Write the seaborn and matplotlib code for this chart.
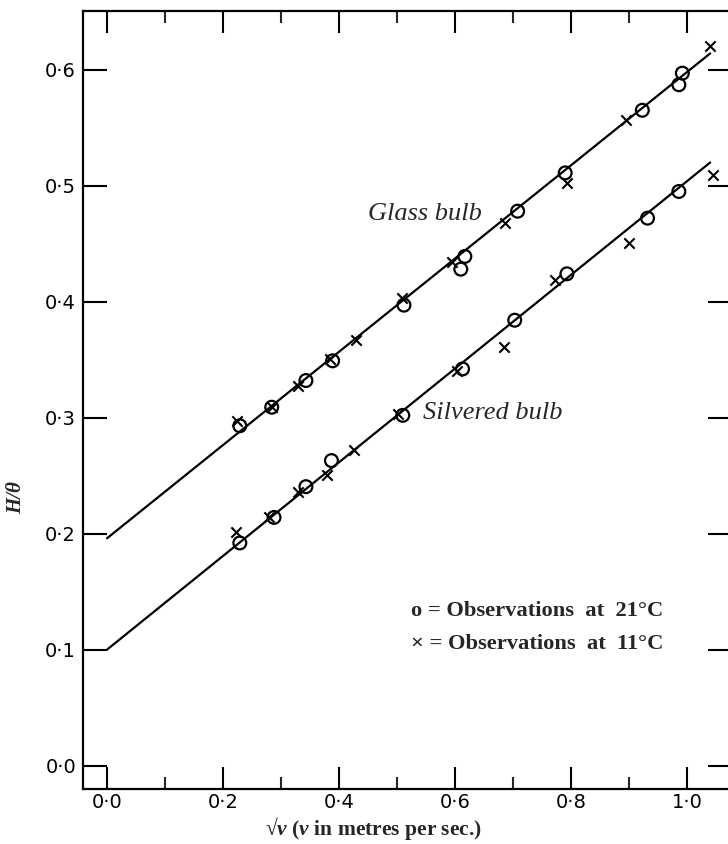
import numpy as np
import pandas as pd
import matplotlib
matplotlib.use("Agg")
import matplotlib.pyplot as plt
import seaborn as sns

# ---- data ----
glass_o_x = [0.229, 0.284, 0.343, 0.389, 0.512, 0.610, 0.617, 0.708, 0.790, 0.923, 0.986, 0.992]
glass_o_y = [0.293, 0.309, 0.332, 0.349, 0.397, 0.428, 0.439, 0.478, 0.511, 0.565, 0.587, 0.597]
glass_x_x = [0.225, 0.284, 0.330, 0.384, 0.429, 0.509, 0.594, 0.686, 0.793, 0.895, 1.040]
glass_x_y = [0.297, 0.309, 0.327, 0.351, 0.367, 0.403, 0.434, 0.468, 0.502, 0.557, 0.620]
silv_o_x = [0.229, 0.288, 0.343, 0.387, 0.510, 0.613, 0.703, 0.793, 0.932, 0.986]
silv_o_y = [0.192, 0.214, 0.2405, 0.263, 0.302, 0.342, 0.384, 0.424, 0.472, 0.495]
silv_x_x = [0.222, 0.280, 0.330, 0.380, 0.426, 0.502, 0.603, 0.684, 0.772, 0.900, 1.045]
silv_x_y = [0.201, 0.214, 0.236, 0.251, 0.272, 0.303, 0.340, 0.361, 0.419, 0.451, 0.509]

fit_x = [0.0, 1.04]
glass_fit_y = [0.196, 0.614]
silv_fit_y = [0.100, 0.520]

xticks = [0.0, 0.2, 0.4, 0.6, 0.8, 1.0]
xtick_labels = ["0·0", "0·2", "0·4", "0·6", "0·8", "1·0"]
yticks = [0.0, 0.1, 0.2, 0.3, 0.4, 0.5, 0.6]
ytick_labels = ["0·0", "0·1", "0·2", "0·3", "0·4", "0·5", "0·6"]

sns.set_theme(style="ticks")
plt.rcParams["font.family"] = ["DejaVu Sans"]
plt.rcParams["mathtext.fontset"] = "custom"
plt.rcParams["mathtext.rm"] = "Liberation Serif:bold"
plt.rcParams["mathtext.it"] = "Liberation Serif:italic:bold"

fig = plt.figure(figsize=(7.28, 8.44), dpi=100)
ax = fig.add_axes([0.114, 0.0652, 0.891, 0.9218])

obs = pd.DataFrame({
    "x": glass_o_x + glass_x_x + silv_o_x + silv_x_x,
    "y": glass_o_y + glass_x_y + silv_o_y + silv_x_y,
    "temp": (["21"] * len(glass_o_x) + ["11"] * len(glass_x_x)
             + ["21"] * len(silv_o_x) + ["11"] * len(silv_x_x)),
})
fits = pd.DataFrame({
    "x": fit_x + fit_x,
    "y": glass_fit_y + silv_fit_y,
    "bulb": ["glass"] * 2 + ["silvered"] * 2,
})

sns.lineplot(data=fits, x="x", y="y", units="bulb", estimator=None,
             color="black", lw=1.6, ax=ax, legend=False)
o = obs[obs.temp == "21"]
xx = obs[obs.temp == "11"]
ax.scatter(o.x, o.y, s=85, facecolors="none", edgecolors="black", linewidths=1.6, zorder=3)
sns.scatterplot(x=xx.x, y=xx.y, marker="x", s=55, color="black", linewidth=1.5, ax=ax, zorder=3)

ax.set_xlim(-0.0414, 1.077)
ax.set_ylim(-0.0201, 0.6506)

for s in ax.spines.values():
    s.set_linewidth(1.6)
    s.set_color("black")

ax.set_xticks(xticks)
ax.set_xticklabels(xtick_labels)
ax.set_xticks([0.1, 0.3, 0.5, 0.7, 0.9], minor=True)
ax.set_yticks(yticks)
ax.set_yticklabels(ytick_labels)
ax.tick_params(axis="x", which="major", direction="in", length=16, width=1.5,
               top=True, bottom=True, labelsize=14, pad=3, colors="black")
ax.tick_params(axis="x", which="minor", direction="in", length=8.5, width=1.5,
               top=True, bottom=True)
ax.tick_params(axis="y", which="major", direction="in", length=17, width=1.5,
               left=True, right=True, labelsize=14, pad=5, colors="black")
ax.tick_params(axis="y", which="minor", left=False, right=False)

ax.set_xlabel("√$v$ ($v$ in metres per sec.)", fontfamily="Liberation Serif",
              fontweight="bold", fontsize=15.5)
ax.xaxis.set_label_coords(0.448, -0.034)
ax.set_ylabel("H/θ", fontfamily="Liberation Serif", fontweight="bold",
              fontstyle="italic", fontsize=15)
ax.yaxis.set_label_coords(-0.088, 0.375)

ax.text(0.450, 0.476, "Glass bulb", fontfamily="Liberation Serif", fontstyle="italic",
        fontsize=19, va="center", ha="left")
ax.text(0.545, 0.304, "Silvered bulb", fontfamily="Liberation Serif", fontstyle="italic",
        fontsize=19, va="center", ha="left")
ax.text(0.524, 0.133, "o = Observations  at  21°C", fontfamily="Liberation Serif",
        fontweight="bold", fontsize=16.2, va="center", ha="left")
ax.text(0.524, 0.105, "× = Observations  at  11°C", fontfamily="Liberation Serif",
        fontweight="bold", fontsize=16.2, va="center", ha="left")

fig.savefig("out.png", dpi=100)
